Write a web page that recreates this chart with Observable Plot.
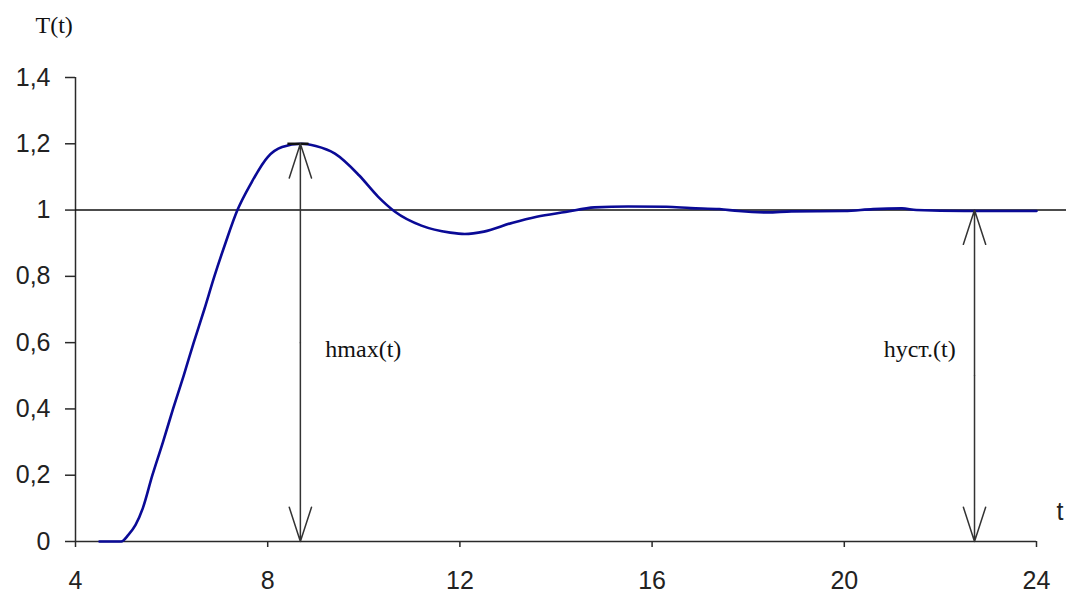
<!DOCTYPE html>
<html>
<head>
<meta charset="utf-8">
<script src="https://cdn.jsdelivr.net/npm/d3@7"></script>
<script src="https://cdn.jsdelivr.net/npm/@observablehq/plot@0.6"></script>
<style>
  html, body { margin: 0; padding: 0; background: #fff; }
  #chart svg { display: block; overflow: visible; }
</style>
</head>
<body>
<div id="chart"></div>
<script>
// Step response T(t)
const tValues = [4.5, 4.95, 5.1, 5.25, 5.4, 5.6, 5.82, 6.03, 6.25, 6.46, 6.68, 6.89, 7.12, 7.37, 7.65, 8.0, 8.3, 8.7, 9.0, 9.4, 9.9, 10.3, 10.65, 11.2, 11.8, 12.1, 12.5, 13.1, 13.6, 14.2, 14.8, 15.5, 16.3, 16.8, 17.4, 17.8, 18.4, 18.9, 20.0, 20.6, 21.2, 21.5, 22.5, 24.0];
const hValues = [0, 0, 0.02, 0.05, 0.1, 0.2, 0.3, 0.4, 0.5, 0.6, 0.7, 0.8, 0.9, 1.0, 1.08, 1.16, 1.19, 1.2, 1.193, 1.17, 1.105, 1.04, 0.995, 0.953, 0.932, 0.928, 0.935, 0.962, 0.98, 0.994, 1.008, 1.011, 1.01, 1.006, 1.003, 0.997, 0.993, 0.996, 0.997, 1.003, 1.005, 1.0, 0.997, 0.997];

const xTicks = [4, 8, 12, 16, 20, 24];
const yTicks = [0, 0.2, 0.4, 0.6, 0.8, 1, 1.2, 1.4];

// Annotated arrows
const arrowT = [8.68, 22.71];
const arrowTop = [1.2, 1.0];
const arrowLabels = ["hmax(t)", "hуст.(t)"];
const labelT = [9.2, 20.82];
const labelH = [0.58, 0.58];

const steadyValue = 1;
const peakMarkT = [8.42, 8.86];

const curve = tValues.map((t, i) => ({t, h: hValues[i]}));
const arrows = arrowT.map((t, i) => ({t, top: arrowTop[i], mid: arrowTop[i] / 2}));
const labels = arrowLabels.map((s, i) => ({s, t: labelT[i], h: labelH[i]}));

const axisColor = "#2a2a2a";

const chart = Plot.plot({
  width: 1066,
  height: 594,
  marginLeft: 75,
  marginRight: 30,
  marginTop: 77,
  marginBottom: 53,
  style: {background: "#fff", overflow: "visible"},
  x: {domain: [4, 24]},
  y: {domain: [0, 1.4]},
  marks: [
    Plot.axisY({ticks: yTicks, tickSize: 10, tickPadding: 15, tickFormat: d => String(d).replace(".", ","), fontSize: 25, fontFamily: "Liberation Sans", stroke: axisColor, fill: "#222", strokeWidth: 1.5, label: null}),
    Plot.axisX({ticks: xTicks, tickSize: 6, tickPadding: 24, fontSize: 25, fontFamily: "Liberation Sans", stroke: axisColor, fill: "#222", strokeWidth: 1.5, label: null}),
    Plot.ruleX([4], {y1: 0, y2: 1.4, stroke: axisColor, strokeWidth: 1.5}),
    Plot.ruleY([0], {x1: 4, x2: 24, stroke: axisColor, strokeWidth: 1.5}),
    Plot.ruleY([steadyValue], {x1: 4, x2: 24.65, stroke: "#111", strokeWidth: 1.5}),
    Plot.line(curve, {x: "t", y: "h", stroke: "#0a0a96", strokeWidth: 2.6, curve: "monotone-x"}),
    Plot.ruleY([1.2], {x1: peakMarkT[0], x2: peakMarkT[1], stroke: "#111", strokeWidth: 2.5}),
    Plot.arrow(arrows, {x1: "t", x2: "t", y1: "mid", y2: "top", stroke: "#333", strokeWidth: 1.5, headLength: 36, headAngle: 36}),
    Plot.arrow(arrows, {x1: "t", x2: "t", y1: "mid", y2: 0, stroke: "#333", strokeWidth: 1.5, headLength: 36, headAngle: 36}),
    Plot.text(labels, {x: "t", y: "h", text: "s", textAnchor: "start", fontSize: 24, fontFamily: "Liberation Serif", fill: "#111"}),
    Plot.text(["T(t)"], {frameAnchor: "top-left", dx: -40, dy: -62, textAnchor: "start", fontSize: 24, fontFamily: "Liberation Serif", fill: "#111"}),
    Plot.text(["t"], {frameAnchor: "bottom-right", dx: 20, dy: -22, textAnchor: "start", fontSize: 25, fontFamily: "Liberation Sans", fill: "#222"})
  ]
});
document.getElementById("chart").appendChild(chart);
</script>
</body>
</html>
